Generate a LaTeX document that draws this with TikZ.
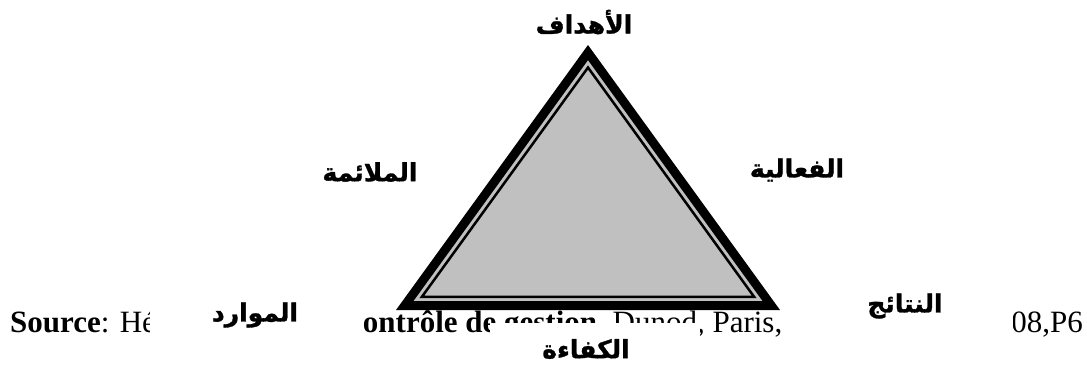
\documentclass[tikz,border=0pt]{standalone}
\usepackage{fontspec}
\setmainfont{Liberation Serif}
\newfontfamily\arabicfont[Script=Arabic, BoldFeatures={FakeBold=1.2}]{DejaVu Sans}
\TeXXeTstate=1
\usetikzlibrary{calc}
\definecolor{silverfill}{RGB}{192,192,192}
\begin{document}
\begin{tikzpicture}[x=1pt,y=-1pt,
  lbl/.style={font=\arabicfont\bfseries\fontsize{25}{29}\selectfont, inner sep=0pt},
  src/.style={font=\fontsize{31}{36}\selectfont, inner sep=0pt, anchor=base west},
  cover/.style={fill=white, draw=none, inner sep=0pt}]
\useasboundingbox (0,0) rectangle (1087,365);
% source line (partly hidden by the label boxes)
\node[src] (s1) at (10,332) {\textbf{Source}: Hé};
\node[src] (s2) at (349,332) {\textbf{contrôle de gestion}, Dunod, Paris,};
\node[src, anchor=base east] (s3) at (1083,332) {2008,P6};
% triangle
\coordinate (A) at (588,45);
\coordinate (B) at (396,310);
\coordinate (C) at (780,310);
\coordinate (I) at (588,212);
\fill[black] (A) -- (B) -- (C) -- cycle;
\fill[silverfill] ($(I)!0.908!(A)$) -- ($(I)!0.908!(B)$) -- ($(I)!0.908!(C)$) -- cycle;
\draw[line width=2.5pt, line join=miter] ($(I)!0.865!(A)$) -- ($(I)!0.865!(B)$) -- ($(I)!0.865!(C)$) -- cycle;
% white label boxes
\node[cover, minimum width=212pt, minimum height=57pt] (cov1) at (256,316.5) {};
\node[cover, minimum width=210pt, minimum height=43pt] (cov2) at (595,344) {};
\node[cover, minimum width=221pt, minimum height=60pt] (cov3) at (902.5,315) {};
% labels
\node[lbl] (ahdaf) at (584,22) {\beginR الأهداف\endR};
\node[lbl] (mula) at (370,172) {\beginR الملائمة\endR};
\node[lbl] (faal) at (797,170) {\beginR الفعالية\endR};
\node[lbl] (mawa) at (255,315) {\beginR الموارد\endR};
\node[lbl] (nata) at (905,306) {\beginR النتائج\endR};
\node[lbl] (kafa) at (586,349) {\beginR الكفاءة\endR};
\end{tikzpicture}
\end{document}
